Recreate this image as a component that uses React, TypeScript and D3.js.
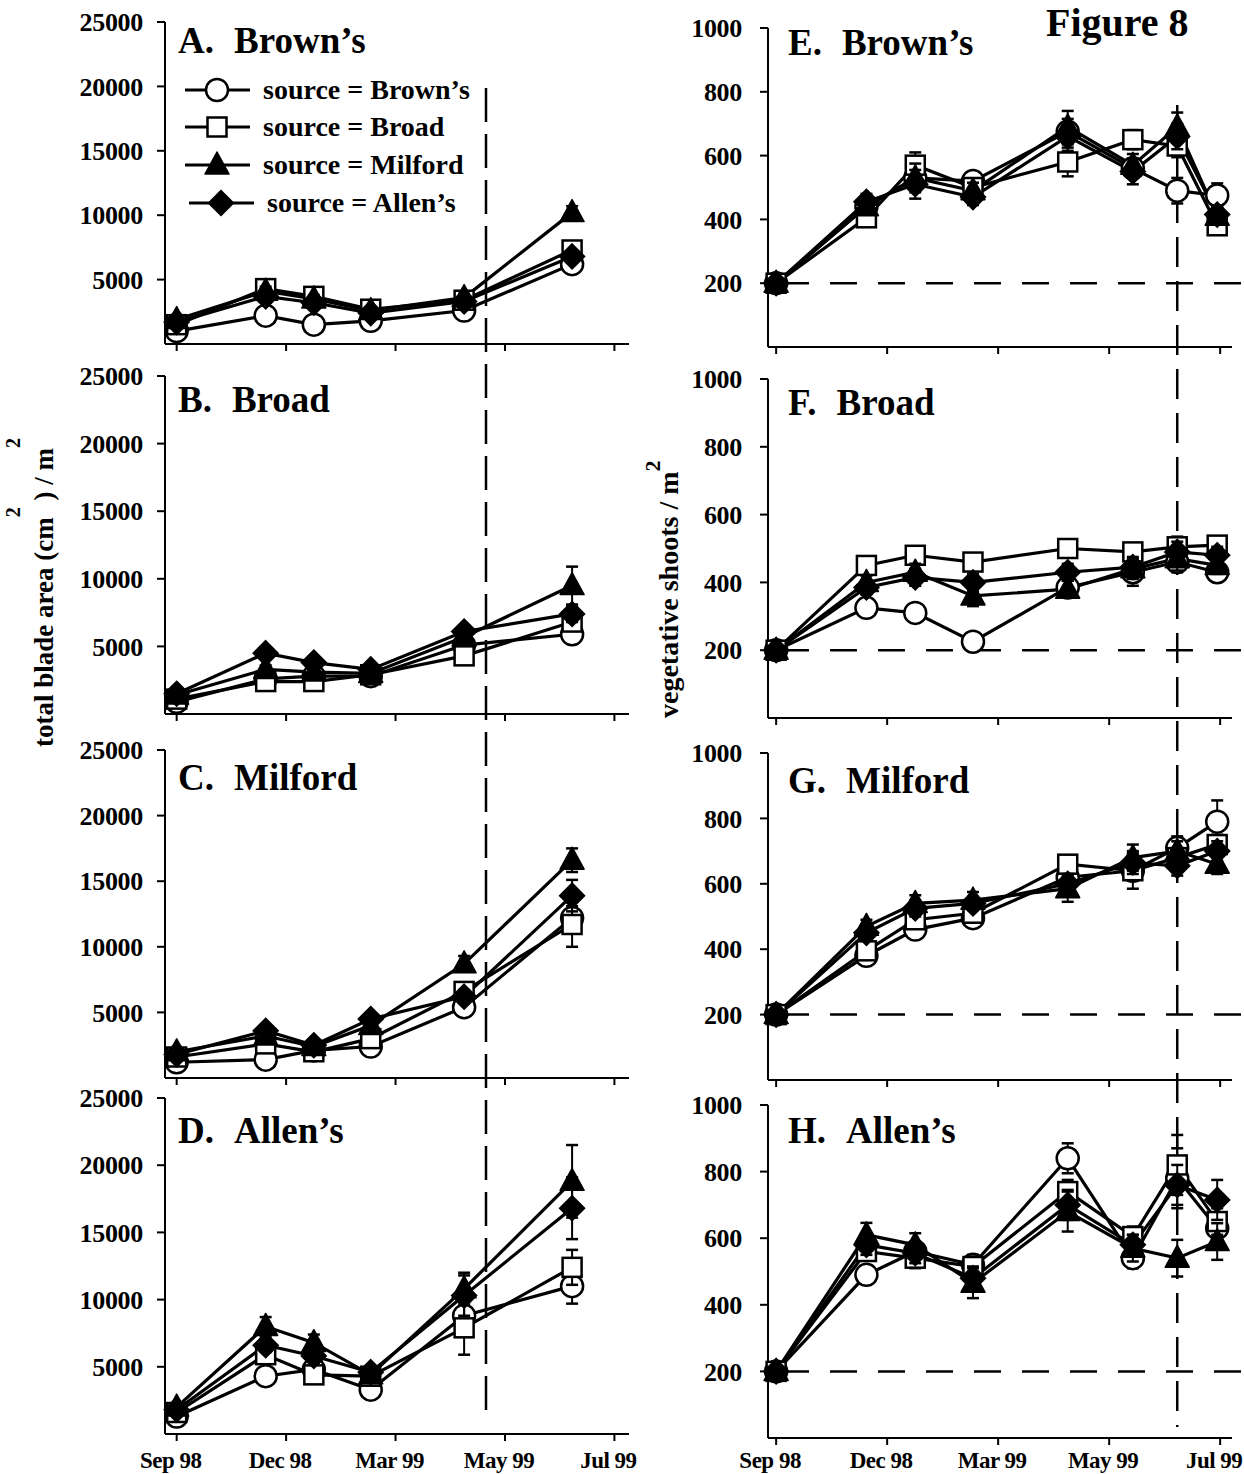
import React from 'react';
import * as d3 from 'd3';

const FONT = '"Liberation Serif", "Times New Roman", serif';

const seriesNames = ['Brown’s', 'Broad', 'Milford', 'Allen’s'];
const markerTypes = ['circle', 'square', 'triangle', 'diamond'];
const xTickDays = [0, 75, 150, 225, 300];
const xTickLabels = ['Sep 98', 'Dec 98', 'Mar 99', 'May 99', 'Jul 99'];
const areaDays = [0, 61, 94, 133, 197, 271];
const shootDays = [0, 61, 94, 133, 197, 241, 271, 298];
const areaTicks = [5000, 10000, 15000, 20000, 25000];
const shootTicks = [200, 400, 600, 800, 1000];
const areaRefDay = 212;
const shootRefDay = 271;
const shootRefLevel = 200;

// total blade area (cm2/m2); rows: source Brown's, Broad, Milford, Allen's
const areaA = [
  [1000, 2200, 1500, 1800, 2600, 6200],
  [1500, 4300, 3700, 2700, 3400, 7300],
  [1900, 4100, 3500, 2600, 3600, 10200],
  [1700, 3700, 3200, 2400, 3300, 6800],
];
const areaAErr = [
  [150, 250, 200, 200, 250, 500],
  [150, 300, 300, 200, 300, 400],
  [200, 350, 300, 250, 300, 500],
  [150, 300, 250, 200, 300, 400],
];
const areaB = [
  [900, 2600, 2800, 2800, 5100, 5900],
  [1100, 2400, 2400, 2900, 4300, 6800],
  [1400, 3300, 3100, 3000, 5700, 9500],
  [1500, 4500, 3800, 3300, 6100, 7400],
];
const areaBErr = [
  [150, 300, 300, 250, 400, 700],
  [150, 300, 300, 250, 400, 600],
  [200, 300, 300, 250, 400, 1400],
  [200, 350, 300, 250, 400, 600],
];
const areaC = [
  [1200, 1400, 2100, 2400, 5400, 12200],
  [1600, 2600, 2000, 3000, 6600, 11700],
  [2000, 3200, 2400, 4000, 8700, 16600],
  [1800, 3600, 2500, 4500, 6200, 13900],
];
const areaCErr = [
  [150, 250, 250, 300, 500, 900],
  [150, 300, 250, 300, 500, 1700],
  [200, 350, 300, 400, 600, 900],
  [200, 350, 300, 400, 500, 1200],
];
const areaD = [
  [1300, 4300, 4800, 3300, 8800, 11000],
  [1600, 5900, 4400, 4300, 7900, 12400],
  [2000, 8000, 6800, 4400, 10800, 18800],
  [1800, 6600, 5800, 4600, 10300, 16800],
];
const areaDErr = [
  [200, 400, 400, 300, 1000, 1300],
  [200, 500, 400, 300, 2000, 1300],
  [250, 700, 600, 400, 1200, 2700],
  [200, 500, 500, 400, 1500, 2300],
];

// vegetative shoots / m2
const shootE = [
  [200, 440, 530, 520, 675, 560, 490, 475],
  [200, 405, 570, 500, 580, 650, 630, 380],
  [200, 440, 530, 490, 690, 570, 690, 410],
  [200, 455, 510, 470, 660, 550, 660, 415],
];
const shootEErr = [
  [8, 25, 35, 25, 40, 30, 40, 38],
  [8, 20, 40, 25, 45, 30, 35, 20],
  [8, 25, 45, 25, 50, 35, 45, 25],
  [8, 25, 45, 25, 45, 40, 40, 25],
];
const shootF = [
  [200, 325, 310, 225, 385, 430, 460, 430],
  [200, 450, 480, 460, 500, 490, 505, 510],
  [200, 400, 430, 360, 380, 440, 470, 450],
  [200, 385, 415, 400, 430, 445, 490, 480],
];
const shootFErr = [
  [8, 20, 20, 15, 25, 40, 30, 25],
  [8, 20, 20, 25, 20, 25, 30, 25],
  [8, 20, 25, 30, 25, 30, 35, 25],
  [8, 20, 25, 25, 25, 30, 30, 25],
];
const shootG = [
  [200, 380, 460, 495, 620, 640, 710, 790],
  [200, 395, 490, 510, 660, 640, 680, 720],
  [200, 470, 540, 550, 585, 680, 700, 660],
  [200, 450, 525, 540, 600, 665, 655, 700],
];
const shootGErr = [
  [8, 20, 25, 20, 30, 55, 35, 65],
  [8, 20, 20, 20, 25, 30, 30, 30],
  [8, 20, 25, 25, 40, 40, 30, 30],
  [8, 20, 25, 20, 30, 35, 30, 30],
];
const shootH = [
  [200, 490, 560, 520, 840, 540, 780, 630],
  [200, 560, 540, 515, 740, 605, 820, 650],
  [200, 610, 580, 465, 680, 570, 540, 590],
  [200, 580, 555, 480, 700, 580, 760, 715],
];
const shootHErr = [
  [8, 25, 30, 30, 45, 30, 90, 40],
  [8, 25, 30, 30, 35, 30, 90, 40],
  [8, 36, 35, 45, 60, 40, 55, 55],
  [8, 30, 30, 35, 45, 30, 60, 60],
];

const panels = [
  { label: 'A.', site: 'Brown’s', col: 0, top: 22, bottom: 344, titleY: 53, data: areaA, err: areaAErr },
  { label: 'B.', site: 'Broad', col: 0, top: 376, bottom: 714, titleY: 412, data: areaB, err: areaBErr },
  { label: 'C.', site: 'Milford', col: 0, top: 750, bottom: 1078, titleY: 790, data: areaC, err: areaCErr },
  { label: 'D.', site: 'Allen’s', col: 0, top: 1098, bottom: 1434, titleY: 1143, data: areaD, err: areaDErr, bottomAxis: true },
  { label: 'E.', site: 'Brown’s', col: 1, top: 28, bottom: 347, titleY: 55, data: shootE, err: shootEErr },
  { label: 'F.', site: 'Broad', col: 1, top: 379, bottom: 718, titleY: 415, data: shootF, err: shootFErr },
  { label: 'G.', site: 'Milford', col: 1, top: 753, bottom: 1080, titleY: 793, data: shootG, err: shootGErr },
  { label: 'H.', site: 'Allen’s', col: 1, top: 1105, bottom: 1438, titleY: 1143, data: shootH, err: shootHErr, bottomAxis: true },
];

const leftX = d3.scaleLinear().domain([-8, 310]).range([165, 629]);
const rightX = d3.scaleLinear().domain([-5.5, 308]).range([768, 1232]);

function Marker({ type, cx, cy, s = 1 }: { type: string; cx: number; cy: number; s?: number }) {
  const sw = 2.5;
  if (type === 'circle') return <circle cx={cx} cy={cy} r={11 * s} fill="#fff" stroke="#000" strokeWidth={sw} />;
  if (type === 'square') {
    const h = 9.5 * s;
    return <rect x={cx - h} y={cy - h} width={2 * h} height={2 * h} fill="#fff" stroke="#000" strokeWidth={sw} />;
  }
  if (type === 'triangle') {
    const w = 12 * s;
    const p = `M${cx},${cy - 13 * s}L${cx + w},${cy + 9 * s}L${cx - w},${cy + 9 * s}Z`;
    return <path d={p} fill="#000" stroke="#000" strokeWidth={1.5} strokeLinejoin="round" />;
  }
  const h = 12.5 * s;
  const p = `M${cx},${cy - h}L${cx + h},${cy}L${cx},${cy + h}L${cx - h},${cy}Z`;
  return <path d={p} fill="#000" stroke="#000" strokeWidth={1.5} />;
}

function Panel({ p }: { p: any }) {
  const x = p.col === 0 ? leftX : rightX;
  const y = d3.scaleLinear().domain([0, p.col === 0 ? 25000 : 1000]).range([p.bottom, p.top]);
  const days = p.col === 0 ? areaDays : shootDays;
  const ticks = p.col === 0 ? areaTicks : shootTicks;
  const [x0, x1] = x.range();
  const line = d3
    .line<number>()
    .x((_d, i) => x(days[i]))
    .y((d) => y(d));
  const labelX = p.col === 0 ? x0 - 22 : x0 - 26;
  const titleX = p.col === 0 ? 178 : 788;
  return (
    <g>
      <line x1={x0} x2={x0} y1={p.top} y2={p.bottom} stroke="#000" strokeWidth={2} />
      <line x1={x0} x2={x1} y1={p.bottom} y2={p.bottom} stroke="#000" strokeWidth={2} />
      {ticks.map((t) => (
        <g key={t}>
          <line x1={x0 - 8} x2={x0} y1={y(t)} y2={y(t)} stroke="#000" strokeWidth={2} />
          <text x={labelX} y={y(t)} dy="0.35em" textAnchor="end" fontSize={26} fontWeight="bold" fontFamily={FONT} letterSpacing={-0.3}>
            {t}
          </text>
        </g>
      ))}
      {xTickDays.map((d, i) => (
        <g key={d}>
          <line x1={x(d)} x2={x(d)} y1={p.bottom} y2={p.bottom + 7} stroke="#000" strokeWidth={2} />
          {p.bottomAxis && (
            <text x={x(d) - 6} y={1468} textAnchor="middle" fontSize={23} fontWeight="bold" fontFamily={FONT} letterSpacing={-0.5}>
              {xTickLabels[i]}
            </text>
          )}
        </g>
      ))}
      {p.col === 1 && (
        <line x1={x0} x2={1244} y1={y(shootRefLevel)} y2={y(shootRefLevel)} stroke="#000" strokeWidth={2.5} strokeDasharray="27 21" strokeDashoffset={-14} />
      )}
      <text x={titleX} y={p.titleY} fontSize={37} fontWeight="bold" fontFamily={FONT}>
        {p.label}
        <tspan dx={20}>{p.site}</tspan>
      </text>
      {p.data.map((s: number[], si: number) => (
        <path key={'l' + si} d={line(s) || ''} fill="none" stroke="#000" strokeWidth={3.2} />
      ))}
      {p.data.map((s: number[], si: number) => (
        <g key={'m' + si}>
          {s.map((v, i) => {
            const e = p.err[si][i];
            const cx = x(days[i]);
            return (
              <g key={i}>
                <line x1={cx} x2={cx} y1={y(v - e)} y2={y(v + e)} stroke="#000" strokeWidth={2} />
                <line x1={cx - 6} x2={cx + 6} y1={y(v + e)} y2={y(v + e)} stroke="#000" strokeWidth={2.5} />
                <line x1={cx - 6} x2={cx + 6} y1={y(v - e)} y2={y(v - e)} stroke="#000" strokeWidth={2.5} />
              </g>
            );
          })}
          {s.map((v, i) => (
            <Marker key={'k' + i} type={markerTypes[si]} cx={x(days[i])} cy={y(v)} />
          ))}
        </g>
      ))}
    </g>
  );
}

function Legend() {
  const rows = [90, 127, 165, 203];
  return (
    <g>
      {seriesNames.map((n, i) => {
        const off = i === 3 ? 4 : 0;
        return (
          <g key={n}>
            <line x1={185 + off} x2={250 + off} y1={rows[i]} y2={rows[i]} stroke="#000" strokeWidth={3} />
            <Marker type={markerTypes[i]} cx={217 + off} cy={rows[i]} />
            <text x={263 + off} y={rows[i]} dy="0.33em" fontSize={28} fontWeight="bold" fontFamily={FONT}>
              source = {n}
            </text>
          </g>
        );
      })}
    </g>
  );
}

export default function App() {
  return (
    <svg width={1244} height={1474} style={{ position: 'absolute', left: 0, top: 0, background: '#fff' }} fontFamily={FONT}>
      <rect x={0} y={0} width={1244} height={1474} fill="#fff" />
      <line x1={leftX(areaRefDay)} x2={leftX(areaRefDay)} y1={88} y2={1422} stroke="#000" strokeWidth={2.5} strokeDasharray="34 12" />
      <line x1={rightX(shootRefDay)} x2={rightX(shootRefDay)} y1={105} y2={1427} stroke="#000" strokeWidth={2.5} strokeDasharray="30 14" />
      {panels.map((p) => (
        <Panel key={p.label} p={p} />
      ))}
      <Legend />
      <text x={1046} y={36} fontSize={40} fontWeight="bold" fontFamily={FONT}>
        Figure 8
      </text>
      <text transform="translate(53,747) rotate(-90)" fontSize={27} fontWeight="bold" fontFamily={FONT}>
        total blade area (cm
        <tspan dy={-33} fontSize={20}>2</tspan>
        <tspan dy={33}> ) / m</tspan>
        <tspan dy={-33} fontSize={20}>2</tspan>
      </text>
      <text transform="translate(678,718) rotate(-90)" fontSize={28} fontWeight="bold" fontFamily={FONT}>
        vegetative shoots / m
        <tspan dy={-18} fontSize={22}>2</tspan>
      </text>
    </svg>
  );
}
